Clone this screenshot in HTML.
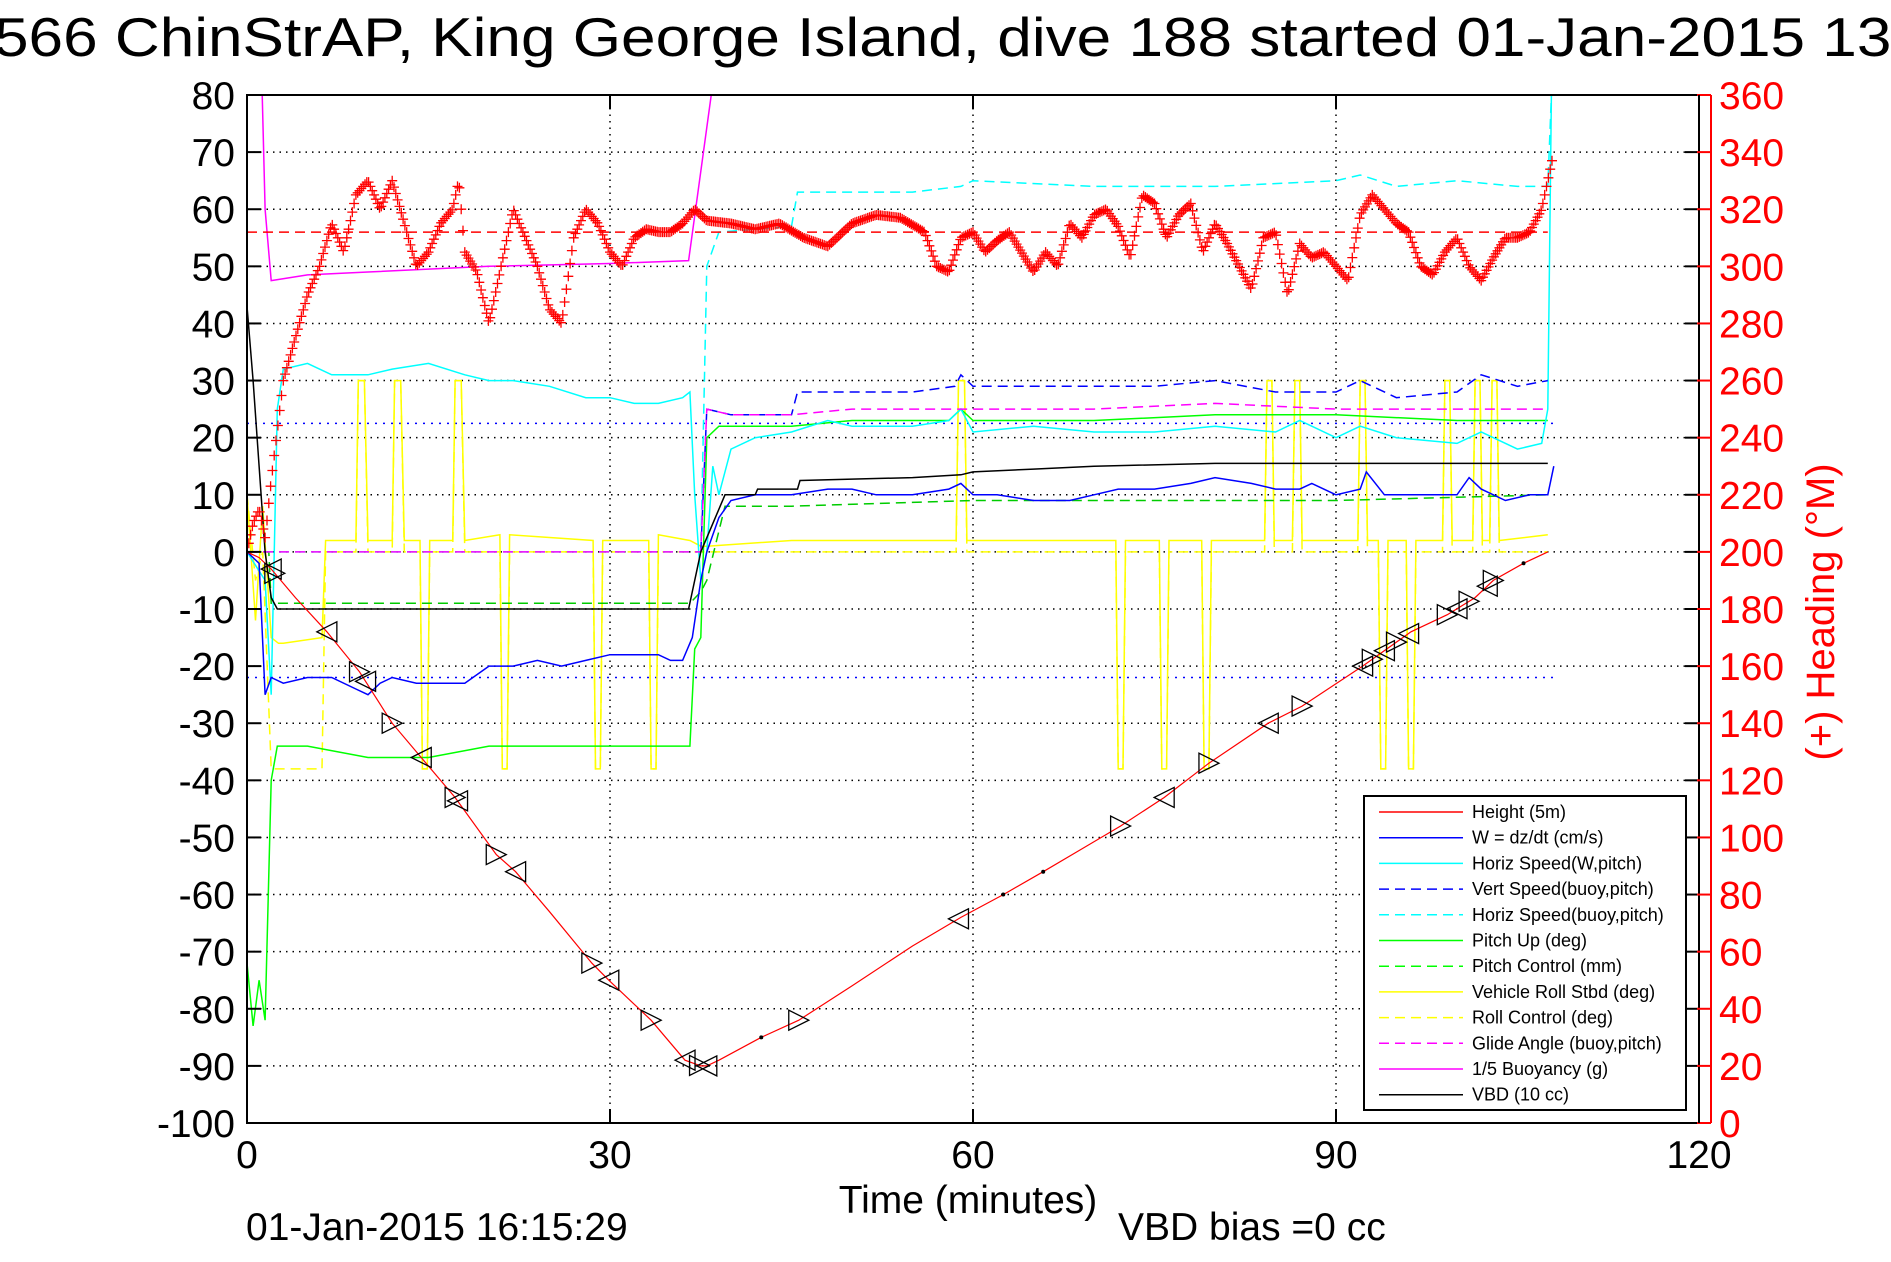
<!DOCTYPE html>
<html><head><meta charset="utf-8"><style>
html,body{margin:0;padding:0;background:#fff;}
svg{display:block;font-family:"Liberation Sans",Arial,sans-serif;}
</style></head><body>
<svg id="chart" width="1891" height="1262" viewBox="0 0 1891 1262" xmlns="http://www.w3.org/2000/svg">
<defs><clipPath id="pc"><rect x="247" y="95" width="1452" height="1028"/></clipPath></defs>
<rect x="0" y="0" width="1891" height="1262" fill="#fff"/>
<text x="-6" y="56" font-size="55" textLength="2070" lengthAdjust="spacingAndGlyphs">566 ChinStrAP, King George Island, dive 188 started 01-Jan-2015 13:52:35</text>
<g id="grid"></g>
<g id="series" clip-path="url(#pc)"></g>
<g id="axes"></g>
<text x="968" y="1213" font-size="39" text-anchor="middle">Time (minutes)</text>
<text x="246" y="1240" font-size="39">01-Jan-2015 16:15:29</text>
<text x="1118" y="1240" font-size="39">VBD bias =0 cc</text>
<text transform="translate(1834,612) rotate(-90)" font-size="40" fill="#f00" text-anchor="middle">(+) Heading (°M)</text>
<g id="legend"></g>
</svg>
<script>
// ---- data ----
const depthT=[0,1,2,4,6.6,9.3,12,14.4,17.2,20.6,22.2,25,28.5,29.9,33.4,36.2,37.5,38,39,42.5,45.6,50,55,59,62.5,65.8,69,72.2,75.8,79.5,84.4,87.2,92.2,96.2,99.2,101.5,103,105.5,107.5];
const depthV=[0,-1,-3,-8,-14,-21,-30,-36,-43,-53,-56,-63,-72,-75,-82,-89,-90,-90,-89,-85,-82,-76,-69,-64,-60,-56,-52,-48,-43,-37,-30,-27,-20,-14,-11,-8,-5,-2,0];
const markerT=[2,2.3,6.6,9.3,9.8,12,14.4,17.2,17.4,20.6,22.2,28.5,29.9,33.4,36.2,37.4,38,45.6,58.8,72.2,75.8,79.5,84.4,87.2,92.2,93,94,95,96,99.2,100,101,102.5,103];
const dotT=[42.5,62.5,65.8,105.5];
const wT=[0,1,1.5,2,3,5,7,9,10,11,12,14,16,18,20,22,24,26,28,30,32,34,35,36,36.8,37.5,38,39,40,42,45,48,50,52,55,58,59,60,62,65,68,70,72,75,78,80,83,85,87,88,90,92,92.5,94,96,98,100,101,102,104,106,107.5,108];
const wV=[0,-2,-25,-22,-23,-22,-22,-24,-25,-23,-22,-23,-23,-23,-20,-20,-19,-20,-19,-18,-18,-18,-19,-19,-15,-5,0,6,9,10,10,11,11,10,10,11,12,10,10,9,9,10,11,11,12,13,12,11,11,12,10,11,14,10,10,10,10,13,11,9,10,10,15];
const hsT=[0,1.5,2,2.5,3,5,7,10,12,15,18,20,22,25,28,30,32,34,36,36.6,37,37.5,38,38.5,39,40,42,45,48,50,55,58,59,60,65,70,75,80,85,87,90,92,95,100,102,105,107,107.5,107.8];
const hsV=[0,-5,-25,25,32,33,31,31,32,33,31,30,30,29,27,27,26,26,27,28,10,-5,0,15,10,18,20,21,23,22,22,23,25,21,22,21,21,22,21,23,20,22,20,19,21,18,19,25,80];
const vsbT=[37.5,38,40,45,45.5,50,55,58.5,59,60,65,70,75,80,85,90,92,95,100,102,105,107.5];
const vsbV=[0,25,24,24,28,28,28,29,31,29,29,29,29,30,28,28,30,27,28,31,29,30];
const hsbT=[0,37.4,37.5,38,39,45,45.5,50,55,59,60,70,80,90,92,95,100,105,107.5,107.8];
const hsbV=[0,0,0,50,56,57,63,63,63,64,65,64,64,65,66,64,65,64,64,80];
const pitchT=[0,0.5,1,1.5,2,2.5,5,10,15,20,25,30,35,36,36.6,37,37.5,38,39,45,50,58,59,60,70,80,90,100,107.5];
const pitchV=[-72,-83,-75,-82,-40,-34,-34,-36,-36,-34,-34,-34,-34,-34,-34,-17,-15,20,22,22,23,23,25,23,23,24,24,23,23];
const pctlT=[0,1.8,2,5,10,15,20,30,36,36.6,37.5,38,39.5,45,60,90,107.5];
const pctlV=[0,0,-9,-9,-9,-9,-9,-9,-9,-9,-7,-5,8,8,9,9,10];
const rollT=[0,0.7,1.3,2,2.6,3,6.2,6.5,9,9.2,9.7,10,12,12.2,12.7,13,14.3,14.5,14.9,15.1,17,17.2,17.7,18,20.9,21.1,21.5,21.7,28.6,28.8,29.2,29.4,33.2,33.4,33.8,34,36.6,37.5,38,45,58.6,58.8,59.3,59.5,71.8,72,72.4,72.6,75.4,75.6,76,76.2,78.9,79.1,79.5,79.7,84.1,84.3,84.7,84.9,86.4,86.6,87,87.2,91.8,92,92.4,92.6,93.5,93.7,94.1,94.3,95.8,96,96.4,96.6,98.8,99,99.4,99.6,101.3,101.5,101.9,102.1,102.7,102.9,103.3,103.5,107.5];
const rollV=[10,-12,8,-15,-16,-16,-15,2,2,30,30,2,2,30,30,2,2,-38,-38,2,2,30,30,2,3,-38,-38,3,2,-38,-38,2,2,-38,-38,3,2,1,1,2,2,30,30,2,2,-38,-38,2,2,-38,-38,2,2,-38,-38,2,2,30,30,2,2,30,30,2,2,30,30,2,2,-38,-38,2,2,-38,-38,2,2,30,30,2,2,30,30,2,2,30,30,2,3];
const rollCtlV=[10,-5,0,-38,-38,-38,-38,0,0,30,30,0,0,30,30,0,0,-38,-38,0,0,30,30,0,0,-38,-38,0,0,-38,-38,0,0,-38,-38,0,0,0,0,0,0,30,30,0,0,-38,-38,0,0,-38,-38,0,0,-38,-38,0,0,30,30,0,0,30,30,0,0,30,30,0,0,-38,-38,0,0,-38,-38,0,0,30,30,0,0,30,30,0,0,30,30,0,0];
const glideT=[0,37.5,38,40,45,50,60,70,80,90,100,107.5];
const glideV=[0,0,25,24,24,25,25,25,26,25,25,25];
const buoyT=[1.2,1.5,2,5,10,20,30,36.5,38.5];
const buoyV=[85,60,47.5,48.5,49,50,50.5,51,82];
const vbdT=[0,0.5,1,1.5,2,2.5,36.5,37.5,39.5,42,42.2,45.5,45.7,55,59,60,65,70,80,107.5];
const vbdV=[43,30,15,0,-8,-10,-10,0,10,10,11,11,12.5,13,13.5,14,14.5,15,15.5,15.5];
const headT=[0,0.5,1,1.5,2,3,4,5,6,7,8,9,10,11,12,13,14,15,16,17,17.5,18,19,20,21,22,23,24,25,26,27,28,29,30,31,32,33,34,35,36,37,38,40,42,44,46,48,50,52,54,56,57,58,59,60,61,62,63,64,65,66,67,68,69,70,71,72,73,74,75,76,77,78,79,80,81,82,83,84,85,86,87,88,89,90,91,92,93,94,95,96,97,98,99,100,101,102,103,104,105,106,107,107.5,108];
const headV=[200,210,215,205,225,260,275,290,300,315,305,325,330,320,330,315,300,305,315,320,330,305,298,280,300,320,310,300,285,280,310,320,315,305,300,310,313,312,312,315,320,316,315,313,315,310,307,315,318,317,312,300,298,310,312,305,309,312,305,298,305,300,315,310,318,320,314,303,325,322,310,318,322,305,315,308,300,292,310,312,290,308,303,305,300,295,318,325,320,315,312,300,297,305,310,300,295,303,310,310,312,320,330,340];
const headMean=312;
const xTicks=[0,30,60,90,120];
const yTicks=[80,70,60,50,40,30,20,10,0,-10,-20,-30,-40,-50,-60,-70,-80,-90,-100];
const hTicks=[360,340,320,300,280,260,240,220,200,180,160,140,120,100,80,60,40,20,0];
const legendLabels=["Height (5m)","W = dz/dt (cm/s)","Horiz Speed(W,pitch)","Vert Speed(buoy,pitch)","Horiz Speed(buoy,pitch)","Pitch Up (deg)","Pitch Control (mm)","Vehicle Roll Stbd (deg)","Roll Control (deg)","Glide Angle (buoy,pitch)","1/5 Buoyancy (g)","VBD (10 cc)"];

// ---- scales ----
const X=t=>247+t*(1452/120);
const Y=v=>95+(80-v)*(1028/180);
const YH=h=>Y(h/2-100);
const NS="http://www.w3.org/2000/svg";
function mk(tag,parent,attrs){const e=document.createElementNS(NS,tag);for(const k in attrs)e.setAttribute(k,attrs[k]);parent.appendChild(e);return e;}
const G=document.getElementById('grid'),S=document.getElementById('series'),A=document.getElementById('axes'),L=document.getElementById('legend');

xTicks.forEach(t=>{if(t>0&&t<120){const l=mk('line',G,{x1:X(t),x2:X(t),y1:95,y2:1123,stroke:'#000','stroke-width':1.5,'stroke-dasharray':'1.5 5'});

}});
yTicks.forEach(v=>{if(v<80&&v>-100){const l=mk('line',G,{x1:247,x2:1699,y1:Y(v),y2:Y(v),stroke:'#000','stroke-width':1.5,'stroke-dasharray':'1.5 5'});

}});

function line(T,V,color,dash,name,w){const n=Math.min(T.length,V.length);let d='';for(let i=0;i<n;i++)d+=(i?'L':'M')+X(T[i]).toFixed(1)+' '+Y(V[i]).toFixed(1);
const p=mk('path',S,{d:d,fill:'none',stroke:color,'stroke-width':w||1.5});if(dash)p.setAttribute('stroke-dasharray',dash);

return p;}
function interp(T,V,t){for(let i=0;i<T.length-1;i++){if(t>=T[i]&&t<=T[i+1]){const f=(t-T[i])/(T[i+1]-T[i]||1);return V[i]+f*(V[i+1]-V[i]);}}return V[V.length-1];}

[22.5,-22].forEach(v=>{const l=mk('line',S,{x1:X(0),x2:X(108),y1:Y(v),y2:Y(v),stroke:'#00f','stroke-width':1.5,'stroke-dasharray':'2 6'});

});

line(rollT,rollCtlV,'#ff0','10 6','roll-control-line');
line(rollT,rollV,'#ff0',null,'vehicle-roll-line');
line(pitchT,pitchV,'#0f0',null,'pitch-up-line');
line(pctlT,pctlV,'#0c0','10 6','pitch-control-line');
line(hsT,hsV,'#0ff',null,'horiz-speed-w-line');
line(hsbT,hsbV,'#0ff','10 6','horiz-speed-buoy-line');
line(wT,wV,'#00f',null,'w-dzdt-line');
line(vsbT,vsbV,'#00f','10 6','vert-speed-buoy-line');
line(glideT,glideV,'#f0f','10 6','glide-angle-line');
line(buoyT,buoyV,'#f0f',null,'buoyancy-line');
line(vbdT,vbdV,'#000',null,'vbd-line');
line(depthT,depthV,'#f00',null,'height-line',1.2);

markerT.forEach((t,i)=>{const cx=X(t),cy=Y(interp(depthT,depthV,t));const s=10;
const dir=i%2?1:-1;
const p=mk('path',S,{d:`M${cx+dir*s} ${cy}L${cx-dir*s} ${cy-s}L${cx-dir*s} ${cy+s}Z`,fill:'none',stroke:'#000','stroke-width':1.3});

});
dotT.forEach(t=>{const c=mk('circle',S,{cx:X(t),cy:Y(interp(depthT,depthV,t)),r:2,fill:'#000'});

});

const hm=mk('line',S,{x1:X(0),x2:X(107.5),y1:YH(headMean),y2:YH(headMean),stroke:'#f00','stroke-width':1.5,'stroke-dasharray':'10 6'});


let hd='';const hn=Math.min(headT.length,headV.length);
for(let t=0;t<=headT[hn-1];t+=0.15){const h=interp(headT.slice(0,hn),headV.slice(0,hn),t);const cx=X(t),cy=YH(h);hd+=`M${(cx-5).toFixed(1)} ${cy.toFixed(1)}h10M${cx.toFixed(1)} ${(cy-5).toFixed(1)}v10`;}
const hp=mk('path',S,{d:hd,stroke:'#f00','stroke-width':1.3,fill:'none'});



const box=mk('rect',A,{x:247,y:95,width:1452,height:1028,fill:'none',stroke:'#000','stroke-width':2});


const ra=mk('line',A,{x1:1711,x2:1711,y1:95,y2:1123,stroke:'#f00','stroke-width':2});


yTicks.forEach(v=>{mk('line',A,{x1:247,x2:261,y1:Y(v),y2:Y(v),stroke:'#000','stroke-width':2});mk('line',A,{x1:1685,x2:1699,y1:Y(v),y2:Y(v),stroke:'#000','stroke-width':2});
const tx=mk('text',A,{x:235,y:Y(v)+14,'font-size':39,'text-anchor':'end'});tx.textContent=v;

});
hTicks.forEach(h=>{mk('line',A,{x1:1697,x2:1711,y1:YH(h),y2:YH(h),stroke:'#f00','stroke-width':2});
const tx=mk('text',A,{x:1719,y:YH(h)+14,'font-size':39,fill:'#f00'});tx.textContent=h;

});
xTicks.forEach(t=>{mk('line',A,{x1:X(t),x2:X(t),y1:1109,y2:1123,stroke:'#000','stroke-width':2});mk('line',A,{x1:X(t),x2:X(t),y1:95,y2:109,stroke:'#000','stroke-width':2});
const tx=mk('text',A,{x:X(t),y:1168,'font-size':39,'text-anchor':'middle'});tx.textContent=t;

});

const lb=mk('rect',L,{x:1364,y:796,width:322,height:314,fill:'#fff',stroke:'#000','stroke-width':2});


const lcol=['#f00','#00f','#0ff','#00f','#0ff','#0f0','#0f0','#ff0','#ff0','#f0f','#f0f','#000'];
const ldash=[0,0,0,1,1,0,1,0,1,1,0,0];
legendLabels.forEach((s,i)=>{const y=812+i*25.7;const g=mk('g',L,{});


const ln=mk('line',g,{x1:1379,x2:1463,y1:y,y2:y,stroke:lcol[i],'stroke-width':1.5});if(ldash[i])ln.setAttribute('stroke-dasharray','10 6');
const tx=mk('text',g,{x:1472,y:y+6,'font-size':18});tx.textContent=s;});
</script>
</body></html>
